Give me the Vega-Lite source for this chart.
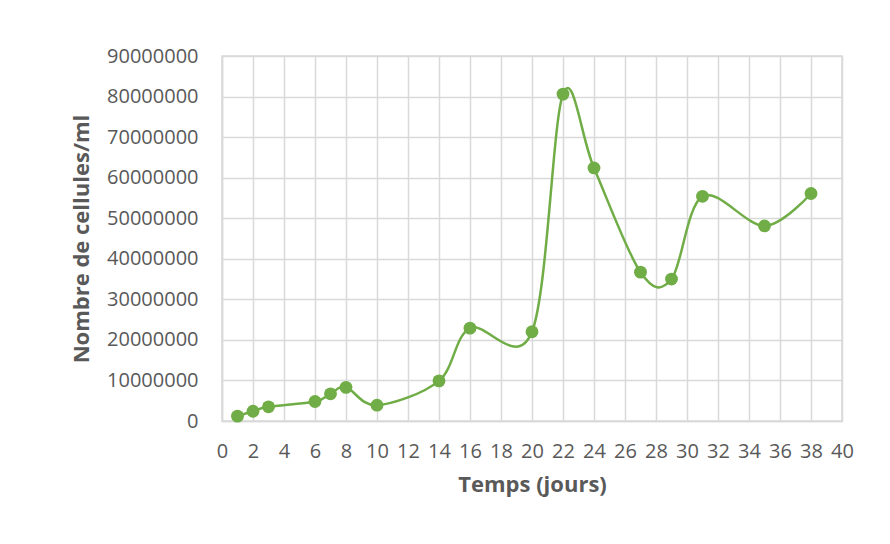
{
  "$schema": "https://vega.github.io/schema/vega-lite/v6.json",
  "width": 620,
  "height": 365,
  "autosize": {"type": "none"},
  "padding": {"left": 222, "top": 56, "right": 48, "bottom": 123},
  "background": "white",
  "data": {
    "values": [
      {"jour": 1, "cellules": 1200000},
      {"jour": 2, "cellules": 2400000},
      {"jour": 3, "cellules": 3500000},
      {"jour": 6, "cellules": 4800000},
      {"jour": 7, "cellules": 6700000},
      {"jour": 8, "cellules": 8300000},
      {"jour": 10, "cellules": 3900000},
      {"jour": 14, "cellules": 9900000},
      {"jour": 16, "cellules": 22900000},
      {"jour": 20, "cellules": 22000000},
      {"jour": 22, "cellules": 80600000},
      {"jour": 24, "cellules": 62400000},
      {"jour": 27, "cellules": 36700000},
      {"jour": 29, "cellules": 35000000},
      {"jour": 31, "cellules": 55400000},
      {"jour": 35, "cellules": 48100000},
      {"jour": 38, "cellules": 56100000}
    ]
  },
  "encoding": {
    "x": {
      "field": "jour",
      "type": "quantitative",
      "scale": {"domain": [0, 40], "nice": false, "zero": false},
      "axis": {
        "title": "Temps (jours)",
        "values": [0, 2, 4, 6, 8, 10, 12, 14, 16, 18, 20, 22, 24, 26, 28, 30, 32, 34, 36, 38, 40],
        "ticks": false,
        "labelOverlap": false,
        "labelFlush": false,
        "labelBound": false,
        "labelPadding": 20,
        "titlePadding": 13
      }
    },
    "y": {
      "field": "cellules",
      "type": "quantitative",
      "scale": {"domain": [0, 90000000], "nice": false},
      "axis": {
        "title": "Nombre de cellules/ml",
        "values": [0, 10000000, 20000000, 30000000, 40000000, 50000000, 60000000, 70000000, 80000000, 90000000],
        "format": "d",
        "ticks": false,
        "labelOverlap": false,
        "labelFlush": false,
        "labelPadding": 24,
        "titlePadding": 13
      }
    }
  },
  "layer": [
    {
      "mark": {"type": "line", "interpolate": "cardinal", "color": "#70AD47", "strokeWidth": 2.5}
    },
    {
      "mark": {"type": "point", "filled": true, "opacity": 1, "color": "#70AD47", "size": 165}
    }
  ],
  "config": {
    "view": {"stroke": "#D9D9D9", "strokeWidth": 1.5},
    "axis": {
      "grid": true,
      "gridColor": "#D9D9D9",
      "gridWidth": 1.5,
      "domainColor": "#D9D9D9",
      "domainWidth": 1.5,
      "labelFont": "Open Sans",
      "labelFontSize": 20,
      "labelColor": "#595959",
      "titleFont": "Open Sans",
      "titleFontSize": 22,
      "titleFontWeight": "bold",
      "titleColor": "#595959"
    }
  }
}
